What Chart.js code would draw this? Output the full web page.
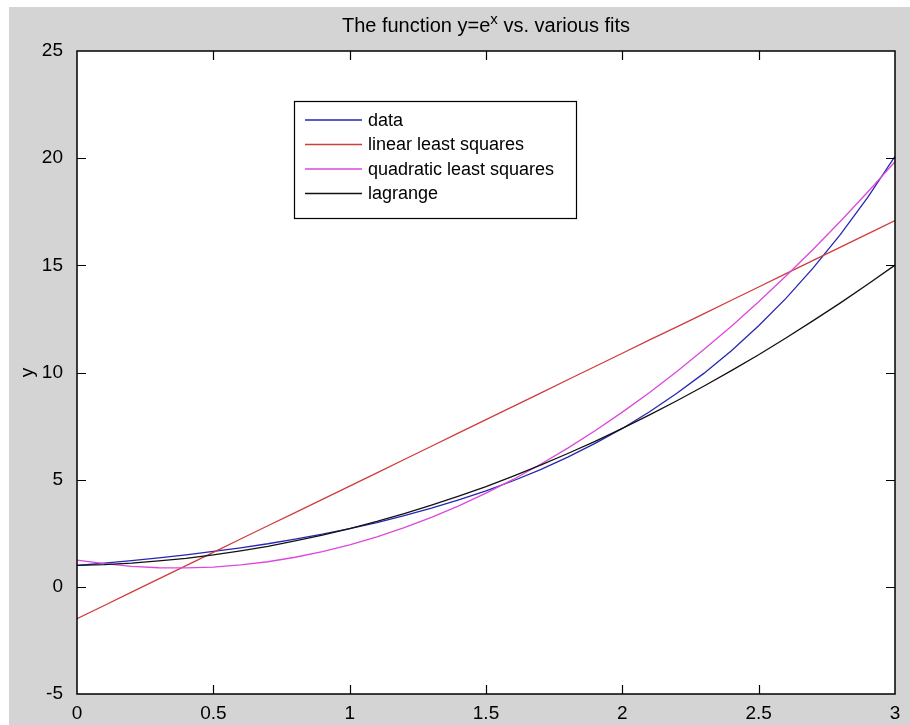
<!DOCTYPE html>
<html>
<head>
<meta charset="utf-8">
<script src="https://cdn.jsdelivr.net/npm/chart.js@4.4.1/dist/chart.umd.min.js"></script>
<style>
  html, body { margin: 0; padding: 0; background: #ffffff; }
  #wrap { position: absolute; left: 9px; top: 7px; width: 901px; height: 718px; background: #d4d4d4; }
  canvas { display: block; }
</style>
</head>
<body>
<div id="wrap"><canvas id="fits" width="901" height="718"></canvas></div>
<script>
const xs = [0, 0.1, 0.2, 0.3, 0.4, 0.5, 0.6, 0.7, 0.8, 0.9, 1.0, 1.1, 1.2, 1.3, 1.4, 1.5,
  1.6, 1.7, 1.8, 1.9, 2.0, 2.1, 2.2, 2.3, 2.4, 2.5, 2.6, 2.7, 2.8, 2.9, 3.0];

const dataY = [1.00, 1.11, 1.22, 1.35, 1.49, 1.65, 1.82, 2.01, 2.23, 2.46, 2.72, 3.00, 3.32, 3.67, 4.06, 4.48,
  4.95, 5.47, 6.05, 6.69, 7.39, 8.17, 9.03, 9.97, 11.02, 12.18, 13.46, 14.88, 16.44, 18.17, 20.09];

const linearY = [-1.49, -0.87, -0.25, 0.37, 0.99, 1.61, 2.23, 2.85, 3.46, 4.08, 4.70, 5.32, 5.94, 6.56, 7.18, 7.80,
  8.42, 9.04, 9.66, 10.28, 10.90, 11.52, 12.13, 12.75, 13.37, 13.99, 14.61, 15.23, 15.85, 16.47, 17.09];

const quadY = [1.25, 1.08, 0.95, 0.89, 0.88, 0.92, 1.02, 1.17, 1.38, 1.64, 1.96, 2.33, 2.76, 3.24, 3.78, 4.37,
  5.01, 5.72, 6.47, 7.28, 8.15, 9.07, 10.05, 11.08, 12.16, 13.30, 14.50, 15.75, 17.06, 18.42, 19.83];

const lagrangeY = [1.00, 1.04, 1.11, 1.21, 1.33, 1.49, 1.68, 1.89, 2.14, 2.41, 2.72, 3.05, 3.42, 3.81, 4.23, 4.68,
  5.17, 5.68, 6.22, 6.79, 7.39, 8.02, 8.68, 9.37, 10.09, 10.83, 11.61, 12.42, 13.25, 14.12, 15.01];

const seriesNames = ['data', 'linear least squares', 'quadratic least squares', 'lagrange'];
const xTicks = [0, 0.5, 1, 1.5, 2, 2.5, 3];
const yTicks = [-5, 0, 5, 10, 15, 20, 25];

const FONT = '"Liberation Sans", Arial, sans-serif';

function pts(ys) {
  return xs.map((x, i) => ({ x: x, y: ys[i] }));
}

function line(label, ys, color, order) {
  return {
    label: label,
    data: pts(ys),
    borderColor: color,
    backgroundColor: color,
    borderWidth: 1.3,
    pointRadius: 0,
    showLine: true,
    tension: 0,
    order: order
  };
}

// white axes box, inward ticks on all four sides, title, y label, legend
const matlabLook = {
  id: 'matlabLook',
  beforeDraw(chart) {
    const { ctx, chartArea: a } = chart;
    ctx.save();
    ctx.fillStyle = '#ffffff';
    ctx.fillRect(a.left, a.top, a.right - a.left, a.bottom - a.top);
    ctx.restore();
  },
  afterDraw(chart) {
    const { ctx, chartArea: a } = chart;
    const xs_ = chart.scales.x, ys_ = chart.scales.y;
    ctx.save();
    ctx.strokeStyle = '#000000';
    ctx.lineWidth = 1.5;
    ctx.strokeRect(a.left, a.top, a.right - a.left, a.bottom - a.top);

    ctx.lineWidth = 1.2;
    ctx.beginPath();
    xTicks.forEach(v => {
      const px = Math.round(xs_.getPixelForValue(v)) + 0.5;
      if (px <= a.left + 1 || px >= a.right - 1) return;
      ctx.moveTo(px, a.bottom); ctx.lineTo(px, a.bottom - 9);
      ctx.moveTo(px, a.top); ctx.lineTo(px, a.top + 9);
    });
    yTicks.forEach(v => {
      const py = Math.round(ys_.getPixelForValue(v)) + 0.5;
      if (py <= a.top + 1 || py >= a.bottom - 1) return;
      ctx.moveTo(a.left, py); ctx.lineTo(a.left + 9, py);
      ctx.moveTo(a.right, py); ctx.lineTo(a.right - 9, py);
    });
    ctx.stroke();

    // title with superscript
    ctx.fillStyle = '#000000';
    ctx.textBaseline = 'alphabetic';
    const big = '20px ' + FONT, small = '15px ' + FONT;
    const p1 = 'The function y=e', p2 = 'x', p3 = ' vs. various fits';
    ctx.font = big; const w1 = ctx.measureText(p1).width, w3 = ctx.measureText(p3).width;
    ctx.font = small; const w2 = ctx.measureText(p2).width;
    let tx = (a.left + a.right) / 2 - (w1 + w2 + w3) / 2;
    const base = 25;
    ctx.textAlign = 'left';
    ctx.font = big; ctx.fillText(p1, tx, base); tx += w1;
    ctx.font = small; ctx.fillText(p2, tx, base - 8); tx += w2;
    ctx.font = big; ctx.fillText(p3, tx, base);

    // y axis label
    ctx.save();
    ctx.translate(19, (a.top + a.bottom) / 2);
    ctx.rotate(-Math.PI / 2);
    ctx.textAlign = 'center';
    ctx.textBaseline = 'middle';
    ctx.font = '19px ' + FONT;
    ctx.fillText('y', 0, 0);
    ctx.restore();

    // legend
    const lx = 285.5, ly = 94.5, lw = 282, lh = 117;
    ctx.fillStyle = '#ffffff';
    ctx.fillRect(lx, ly, lw, lh);
    ctx.lineWidth = 1.2;
    ctx.strokeStyle = '#000000';
    ctx.strokeRect(lx, ly, lw, lh);
    ctx.font = '18px ' + FONT;
    ctx.textBaseline = 'middle';
    ctx.textAlign = 'left';
    chart.data.datasets.forEach((ds, i) => {
      const ry = 113 + i * 24.5;
      ctx.strokeStyle = ds.borderColor;
      ctx.lineWidth = 1.3;
      ctx.beginPath();
      ctx.moveTo(296, ry); ctx.lineTo(353, ry);
      ctx.stroke();
      ctx.fillStyle = '#000000';
      ctx.fillText(ds.label, 359, ry + 1);
    });
    ctx.restore();
  }
};

new Chart(document.getElementById('fits'), {
  type: 'scatter',
  data: {
    datasets: [
      line(seriesNames[0], dataY, '#2626b4', 4),
      line(seriesNames[1], linearY, '#d03c3c', 3),
      line(seriesNames[2], quadY, '#dc48dc', 2),
      line(seriesNames[3], lagrangeY, '#111111', 1)
    ]
  },
  options: {
    responsive: false,
    animation: false,
    devicePixelRatio: 1,
    layout: { padding: { left: 0, top: 44, right: 15, bottom: 0 } },
    plugins: {
      legend: { display: false },
      title: { display: false },
      tooltip: { enabled: false }
    },
    scales: {
      x: {
        type: 'linear',
        min: 0, max: 3,
        afterBuildTicks: s => { s.ticks = xTicks.map(v => ({ value: v })); },
        afterFit: s => { s.height = 31; },
        grid: { display: false },
        border: { display: false },
        ticks: {
          color: '#000000', padding: 0, maxRotation: 0,
          font: { family: FONT, size: 19 },
          callback: v => String(v)
        }
      },
      y: {
        min: -5, max: 25,
        afterBuildTicks: s => { s.ticks = yTicks.map(v => ({ value: v })); },
        afterFit: s => { s.width = 68; },
        grid: { display: false },
        border: { display: false },
        ticks: { color: '#000000', padding: 6, font: { family: FONT, size: 19 } }
      }
    }
  },
  plugins: [matlabLook]
});
</script>
</body>
</html>
